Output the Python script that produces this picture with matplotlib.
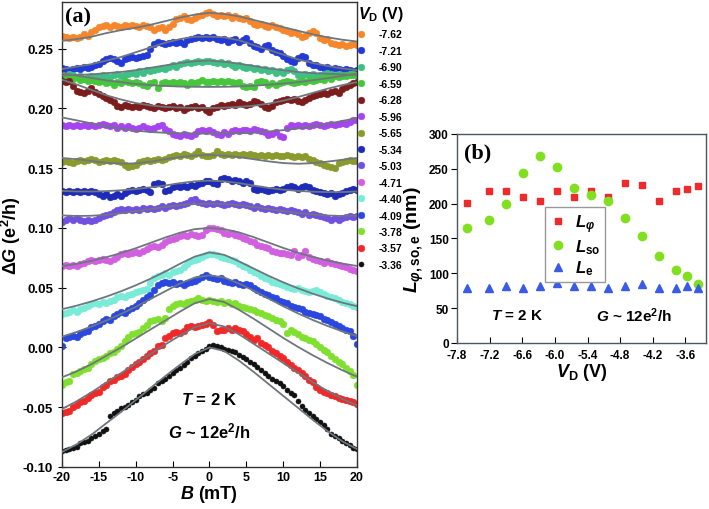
import numpy as np
import matplotlib.pyplot as plt

plt.rcParams['font.family'] = ['Liberation Sans', 'DejaVu Sans']
plt.rcParams['font.weight'] = 'bold'
plt.rcParams['axes.labelweight'] = 'bold'
plt.rcParams['axes.unicode_minus'] = False
plt.rcParams['mathtext.fontset'] = 'custom'
plt.rcParams['mathtext.rm'] = 'Liberation Sans:bold'
plt.rcParams['mathtext.it'] = 'Liberation Sans:italic:bold'
plt.rcParams['mathtext.bf'] = 'Liberation Sans:bold'

# ---- panel (a): magnetoconductance, values in 1e-3 e^2/h ----
vd_labels = ['-7.62', '-7.21', '-6.90', '-6.59', '-6.28', '-5.96', '-5.65', '-5.34',
             '-5.03', '-4.71', '-4.40', '-4.09', '-3.78', '-3.57', '-3.36']
colors = ['#f7862a', '#2238d8', '#3fbf85', '#46c63a', '#7d1c1c', '#a545f0', '#8a9a2c',
          '#1e2ab8', '#7050e0', '#d25fe0', '#78ecd8', '#2a48e0', '#80e030', '#f02828', '#111111']

b_data = np.linspace(-20, 20, 81)   # 0.5 mT steps
b_fit = np.linspace(-20, 20, 21)    # 2 mT steps

dg_762 = [261, 260, 259, 260, 259, 260, 262, 261, 264, 266, 268, 269, 270, 268, 270, 269, 268, 270, 269, 270,
          269, 268, 270, 269, 268, 266, 267, 268, 266, 268, 271, 275, 276, 277, 275, 274, 276, 277, 278, 280,
          281, 279, 277, 278, 277, 278, 276, 277, 276, 275, 276, 273, 271, 270, 271, 269, 268, 270, 268, 267,
          266, 265, 263, 264, 262, 260, 261, 263, 265, 263, 259, 257, 258, 255, 254, 253, 254, 252, 253, 254, 253]
dg_721 = [234, 233, 232, 233, 234, 233, 235, 234, 235, 236, 237, 240, 241, 242, 241, 240, 238, 241, 242, 243,
          242, 243, 244, 245, 250, 254, 256, 255, 254, 255, 256, 255, 256, 254, 257, 258, 259, 260, 259, 260,
          259, 260, 258, 257, 258, 256, 257, 258, 256, 257, 259, 255, 252, 251, 250, 252, 253, 249, 247, 246,
          244, 241, 240, 239, 242, 244, 243, 238, 236, 236, 235, 234, 235, 233, 234, 233, 232, 233, 232, 231, 232]
dg_690 = [228, 227, 229, 228, 226, 227, 225, 226, 227, 226, 227, 228, 227, 226, 228, 229, 227, 228, 229, 230,
          229, 231, 230, 232, 231, 232, 233, 234, 233, 235, 236, 235, 237, 238, 239, 238, 239, 240, 239, 240,
          240, 239, 238, 239, 237, 238, 236, 235, 236, 235, 234, 235, 233, 234, 232, 233, 231, 232, 230, 231,
          230, 232, 233, 231, 228, 227, 229, 228, 229, 227, 228, 229, 230, 229, 228, 229, 227, 228, 229, 228, 228]
dg_659 = [228, 226, 227, 225, 226, 224, 225, 223, 224, 223, 222, 223, 221, 222, 220, 222, 221, 223, 222, 221,
          222, 221, 220, 219, 221, 222, 217, 221, 222, 221, 222, 221, 222, 221, 220, 222, 221, 222, 224, 222,
          222, 223, 222, 223, 222, 223, 222, 221, 222, 219, 218, 219, 218, 222, 223, 222, 220, 221, 220, 221,
          222, 223, 222, 221, 222, 223, 222, 224, 223, 224, 225, 224, 226, 225, 227, 226, 228, 227, 228, 229, 228]
dg_628 = [223, 222, 223, 219, 215, 214, 213, 215, 217, 214, 212, 210, 209, 207, 205, 202, 201, 203, 202, 201,
          202, 201, 203, 202, 201, 200, 202, 201, 200, 201, 202, 200, 201, 199, 200, 201, 202, 200, 201, 199,
          197, 200, 201, 203, 202, 203, 204, 203, 205, 204, 203, 204, 206, 205, 204, 201, 200, 202, 205, 206,
          207, 208, 207, 208, 206, 205, 207, 209, 210, 211, 212, 213, 212, 214, 215, 213, 216, 218, 220, 221, 222]
dg_596 = [186, 185, 186, 185, 186, 185, 186, 185, 186, 185, 186, 187, 186, 185, 186, 184, 185, 184, 185, 184,
          183, 184, 185, 184, 183, 184, 185, 186, 183, 181, 179, 178, 177, 179, 178, 177, 179, 181, 182, 181,
          182, 180, 179, 178, 180, 179, 181, 182, 181, 182, 182, 181, 183, 182, 181, 180, 178, 179, 180, 177,
          176, 184, 186, 185, 186, 185, 186, 185, 186, 187, 186, 185, 186, 187, 186, 187, 188, 187, 189, 190, 190]
dg_565 = [155, 156, 155, 154, 156, 157, 156, 157, 158, 157, 155, 156, 157, 156, 157, 156, 155, 153, 151, 152,
          153, 155, 156, 157, 156, 157, 158, 157, 158, 159, 160, 161, 160, 162, 161, 160, 162, 164, 161, 160,
          160, 161, 164, 162, 161, 162, 161, 162, 161, 162, 161, 162, 161, 160, 161, 160, 161, 160, 161, 160,
          160, 161, 160, 159, 160, 159, 160, 158, 157, 155, 154, 153, 152, 151, 150, 154, 155, 156, 157, 156, 156]
dg_534 = [131, 130, 131, 130, 131, 130, 131, 130, 131, 130, 128, 127, 128, 126, 127, 128, 127, 129, 131, 132,
          131, 132, 133, 132, 130, 137, 138, 137, 131, 132, 134, 135, 134, 135, 134, 136, 135, 137, 138, 139,
          139, 138, 137, 141, 142, 141, 139, 140, 139, 138, 139, 138, 133, 132, 133, 132, 131, 132, 133, 132,
          133, 134, 135, 134, 133, 134, 135, 134, 132, 131, 130, 129, 128, 129, 127, 128, 129, 131, 132, 133, 132]
dg_503 = [105, 107, 108, 107, 108, 107, 106, 107, 106, 107, 108, 110, 111, 112, 113, 115, 116, 115, 116, 115,
          116, 115, 117, 116, 117, 116, 117, 118, 117, 118, 119, 118, 119, 120, 121, 123, 124, 122, 121, 120,
          121, 120, 121, 120, 119, 120, 121, 120, 119, 120, 119, 118, 117, 118, 117, 116, 117, 116, 115, 116,
          115, 114, 115, 114, 113, 112, 113, 111, 112, 111, 110, 109, 108, 107, 108, 107, 108, 109, 110, 109, 110]
dg_471 = [68, 69, 68, 69, 68, 70, 71, 72, 73, 72, 73, 74, 73, 72, 74, 76, 78, 79, 78, 79,
          80, 79, 81, 82, 84, 85, 84, 86, 88, 90, 91, 92, 93, 94, 93, 95, 94, 93, 94, 98,
          100, 100, 99, 98, 96, 95, 96, 94, 93, 92, 91, 89, 88, 86, 85, 84, 83, 81, 80, 79,
          79, 78, 77, 81, 76, 77, 81, 76, 74, 73, 72, 71, 72, 71, 70, 69, 68, 67, 66, 65, 64]
dg_440 = [28, 29, 30, 31, 30, 32, 33, 35, 36, 37, 36, 38, 37, 39, 40, 42, 43, 42, 44, 45,
          46, 47, 48, 49, 54, 58, 60, 61, 62, 61, 63, 64, 65, 67, 70, 72, 73, 74, 76, 77,
          78, 78, 77, 76, 75, 74, 73, 72, 70, 68, 67, 65, 63, 62, 60, 58, 57, 55, 54, 53,
          52, 51, 50, 49, 50, 48, 47, 46, 47, 48, 46, 45, 43, 42, 41, 40, 38, 37, 36, 35, 34]
dg_409 = [1, 8, 9, 10, 9, 11, 13, 14, 17, 18, 20, 22, 24, 23, 26, 28, 30, 29, 31, 33,
          35, 37, 40, 42, 44, 48, 52, 54, 55, 54, 55, 53, 54, 52, 54, 55, 56, 57, 59, 61,
          59, 58, 57, 58, 56, 55, 54, 55, 53, 52, 53, 52, 50, 48, 46, 45, 44, 42, 41, 39,
          38, 37, 35, 34, 33, 32, 30, 29, 28, 27, 26, 24, 23, 21, 20, 18, 16, 15, 14, 10, 3]
dg_378 = [-31, -29, -28, -22, -21, -20, -18, -17, -14, -11, -10, -9, -7, -5, -4, -1, 1, 5, 9, 11,
          12, 13, 16, 19, 22, 23, 24, 22, 25, 32, 35, 36, 37, 36, 38, 39, 40, 41, 40, 39,
          40, 39, 38, 39, 37, 38, 36, 37, 35, 34, 33, 32, 31, 30, 29, 27, 26, 25, 23, 22,
          20, 12, 15, 13, 11, 9, 8, 6, 5, 3, 0, -2, -4, -7, -10, -12, -14, -17, -20, -23, -31]
dg_357 = [-55, -54, -53, -50, -48, -46, -45, -42, -40, -38, -37, -33, -31, -28, -27, -25, -24, -22, -19, -16,
          -14, -12, -10, -7, -5, -3, 1, 2, 8, 10, 12, 13, 12, 14, 17, 18, 17, 18, 19, 20,
          21, 19, 14, 15, 15, 16, 15, 16, 15, 14, 11, 9, 6, 8, 4, 2, 0, -3, -5, -7,
          -9, -12, -15, -17, -19, -21, -24, -27, -29, -33, -36, -37, -38, -40, -41, -42, -43, -44, -45, -46, -47]
dg_336 = [-87, -86, -85, -84, -83, -80, -79, -78, -76, -74, -72, -70, -68, -57, -55, -53, -51, -50, -48, -46,
          -44, -41, -39, -38, -36, -34, -30, -28, -26, -24, -21, -19, -17, -15, -12, -9, -7, -5, -3, -1,
          1, 2, 1, 0, -1, -2, -3, -4, -6, -8, -10, -12, -14, -16, -19, -21, -24, -26, -28, -30,
          -32, -36, -38, -40, -45, -49, -52, -55, -57, -60, -62, -65, -68, -72, -74, -76, -78, -80, -82, -84, -85]

fit_762 = [256.5, 258, 260, 263, 265.5, 267.5, 270, 273, 276, 278.5, 280, 279, 277, 274, 271, 268, 265, 262, 259.5, 257.5, 256]
fit_721 = [233, 235, 237, 240, 243, 247, 251, 255, 258, 260, 260, 259.5, 257, 253, 249, 245, 241, 238, 235.5, 233.5, 232]
fit_690 = [227.5, 228, 228.5, 229.5, 230.5, 232, 234, 236, 238, 239.5, 240, 239, 237.5, 235.5, 233.5, 232, 230.5, 229.5, 229, 228.5, 228]
fit_659 = [229.5, 227.5, 225.5, 223.5, 222, 220.5, 219.5, 218.8, 218.3, 218.1, 218, 218.1, 218.4, 219, 219.8, 220.8, 222, 223.6, 225.3, 227.2, 229]
fit_628 = [224, 220, 215.5, 211, 207.5, 204.5, 202.5, 201.3, 200.7, 200.4, 200.4, 200.6, 201.2, 202.3, 204, 206.5, 209.5, 213, 216.5, 219.5, 222]
fit_596 = [192.5, 190, 187.5, 185, 183, 181.5, 180.3, 179.6, 179.2, 179, 179, 179, 179.3, 179.8, 180.7, 181.8, 183.3, 185, 187, 189.5, 192]
fit_565 = [158.5, 157.5, 156, 154.5, 153.8, 154, 155.5, 157.5, 159.3, 160.5, 161, 160.5, 159.3, 157.5, 155.7, 154.3, 153.7, 154.2, 155.5, 157, 158.5]
fit_534 = [131, 130.5, 130.5, 130.8, 131.5, 132.5, 134, 135.5, 137.5, 139, 139.6, 139, 137.5, 135.5, 133.5, 132, 131, 130.3, 130, 130, 130.5]
fit_503 = [110.5, 110, 110.2, 111, 112.3, 114, 115.8, 117.5, 119, 120, 120.3, 120, 119, 117.5, 115.8, 114, 112.5, 111.2, 110.4, 110, 110.2]
fit_471 = [68, 70, 72.5, 75.5, 79, 83, 87.5, 92, 96, 99, 100, 99, 96.3, 92.3, 87.8, 83.3, 79.2, 75.8, 72.7, 70.2, 68.2]
fit_440 = [32, 35, 38.5, 42.5, 47, 52, 57.5, 63.5, 70, 76, 79.5, 77.5, 72, 66, 60, 54.5, 49.5, 45, 41, 37.5, 34.5]
fit_409 = [9, 13, 17.5, 22.5, 28, 34, 40.5, 47, 53.5, 58.5, 60.3, 58.5, 53.5, 47.5, 41, 34.5, 28.5, 23, 18, 13.5, 9.5]
fit_378 = [-25, -20, -14, -7, 0, 7.5, 15, 22.5, 30, 37, 40.5, 38, 31.5, 24, 16, 8, 0.5, -6.5, -13, -19, -24.5]
fit_357 = [-51.5, -45, -37.5, -29.5, -21.5, -13.5, -5.5, 2.5, 10, 17, 20.3, 17.5, 11, 3, -5, -13, -21, -29, -36.5, -43, -48.5]
fit_336 = [-87.5, -81, -73, -63.5, -54, -44, -34, -24, -14.5, -5.5, 0, -3, -11, -20.5, -30.5, -40.5, -50.5, -60.5, -70, -78.5, -85]

dg_sets = [dg_762, dg_721, dg_690, dg_659, dg_628, dg_596, dg_565, dg_534,
           dg_503, dg_471, dg_440, dg_409, dg_378, dg_357, dg_336]
fit_sets = [fit_762, fit_721, fit_690, fit_659, fit_628, fit_596, fit_565, fit_534,
            fit_503, fit_471, fit_440, fit_409, fit_378, fit_357, fit_336]

# ---- panel (b): characteristic lengths (nm) ----
vd = [-7.62, -7.21, -6.90, -6.59, -6.28, -5.96, -5.65, -5.34, -5.03, -4.71, -4.40, -4.09, -3.78, -3.57, -3.36]
l_phi = [201, 218, 218, 209, 204, 218, 209, 218, 209, 229, 227, 204, 218, 221, 226]
l_so = [165, 177, 200, 244, 269, 252, 222, 212, 204, 180, 154, 125, 105, 96, 84]
l_e = [79, 79, 82, 79, 82, 86, 82, 82, 79, 82, 85, 79, 79, 82, 79]

fig = plt.figure(figsize=(7.09, 5.10), dpi=100)
ax = fig.add_axes([0.0874, 0.0824, 0.4161, 0.9116])

for dg, fit, c, lab in zip(dg_sets, fit_sets, colors, vd_labels):
    ms = 3.6 if c == '#111111' else 4.8
    ax.plot(b_data, np.array(dg) / 1000, 'o', ls='none', color=c, ms=ms,
            mec=c, mew=0.4, label=lab, zorder=2)
    ax.plot(b_fit, np.array(fit) / 1000, '-', color='#6e767e', lw=1.3, zorder=3)

ax.set_xlim(-20, 20)
ax.set_ylim(-0.10, 0.289)
ax.set_xticks(np.arange(-20, 21, 5))
ax.set_yticks(np.arange(-0.10, 0.26, 0.05))
ax.yaxis.set_major_formatter(plt.FormatStrFormatter('%.2f'))
ax.tick_params(axis='x', direction='in', length=4, labelsize=9, pad=3)
ax.tick_params(axis='y', direction='inout', length=6, labelsize=9.5)
for s in ax.spines.values():
    s.set_linewidth(1.0)
    s.set_color('#333333')
ax.set_xlabel(r'$B$ (mT)', fontsize=13, labelpad=0)
ax.set_ylabel(r'$\mathit{\Delta G}$ (e$^2$/h)', fontsize=13, labelpad=0)
ax.text(0.01, 0.99, '(a)', transform=ax.transAxes, ha='left', va='top',
        fontsize=16, family='Liberation Serif', fontweight='bold')
ax.text(0.5, 0.146, r'$T$ = 2 K', transform=ax.transAxes, ha='center', va='center', fontsize=12)
ax.text(0.5, 0.078, r'$G$ ~ 12e$^2$/h', transform=ax.transAxes, ha='center', va='center', fontsize=12)

leg = fig.legend(*ax.get_legend_handles_labels(), loc='upper left',
                 bbox_to_anchor=(358 / 709, 1 - 5 / 510), frameon=False,
                 title=r'$V_\mathrm{D}$ (V)', title_fontsize=11.5, fontsize=7.5,
                 handlelength=0.5, handletextpad=1.5, labelspacing=0.62,
                 borderpad=0, borderaxespad=0, alignment='left')

# panel (b)
bx = fig.add_axes([0.6446, 0.3255, 0.3512, 0.4098])
bx.plot(vd, l_phi, 's', ls='none', color='#ee2a2a', ms=5, label=r'$L_\varphi$')
bx.plot(vd, l_so, 'o', ls='none', color='#80e020', ms=6, label=r'$L_\mathrm{so}$')
bx.plot(vd, l_e, '^', ls='none', color='#3a5ae8', ms=6, label=r'$L_\mathrm{e}$')
bx.set_xlim(-7.8, -3.22)
bx.set_ylim(0, 300)
bx.set_xticks(np.arange(-7.8, -3.5, 0.6))
bx.xaxis.set_major_formatter(plt.FormatStrFormatter('%.1f'))
bx.set_yticks(np.arange(0, 301, 50))
bx.tick_params(axis='x', direction='in', length=4, labelsize=8.5, pad=4)
bx.tick_params(axis='y', direction='out', length=4, labelsize=8.5, pad=2)
for s in bx.spines.values():
    s.set_linewidth(1.0)
    s.set_color('#4a5666')
bx.set_xlabel(r'$V_\mathrm{D}$ (V)', fontsize=13, labelpad=0)
bx.set_ylabel(r'$L_{\varphi\mathrm{,so,e}}$ (nm)', fontsize=14, labelpad=2)
bx.text(0.03, 0.96, '(b)', transform=bx.transAxes, ha='left', va='top',
        fontsize=16, family='Liberation Serif', fontweight='bold')
bx.text(0.24, 0.135, r'$T$ = 2 K', transform=bx.transAxes, ha='center', va='center', fontsize=11)
bx.text(0.71, 0.135, r'$G$ ~ 12e$^2$/h', transform=bx.transAxes, ha='center', va='center', fontsize=11)
bx.legend(loc='upper left', bbox_to_anchor=(0.353, 0.65), fontsize=12, handlelength=1.0,
          handletextpad=0.5, labelspacing=0.15, borderpad=0.3, borderaxespad=0,
          fancybox=False, edgecolor='#999999', framealpha=1)

fig.savefig('out.png', dpi=100)
